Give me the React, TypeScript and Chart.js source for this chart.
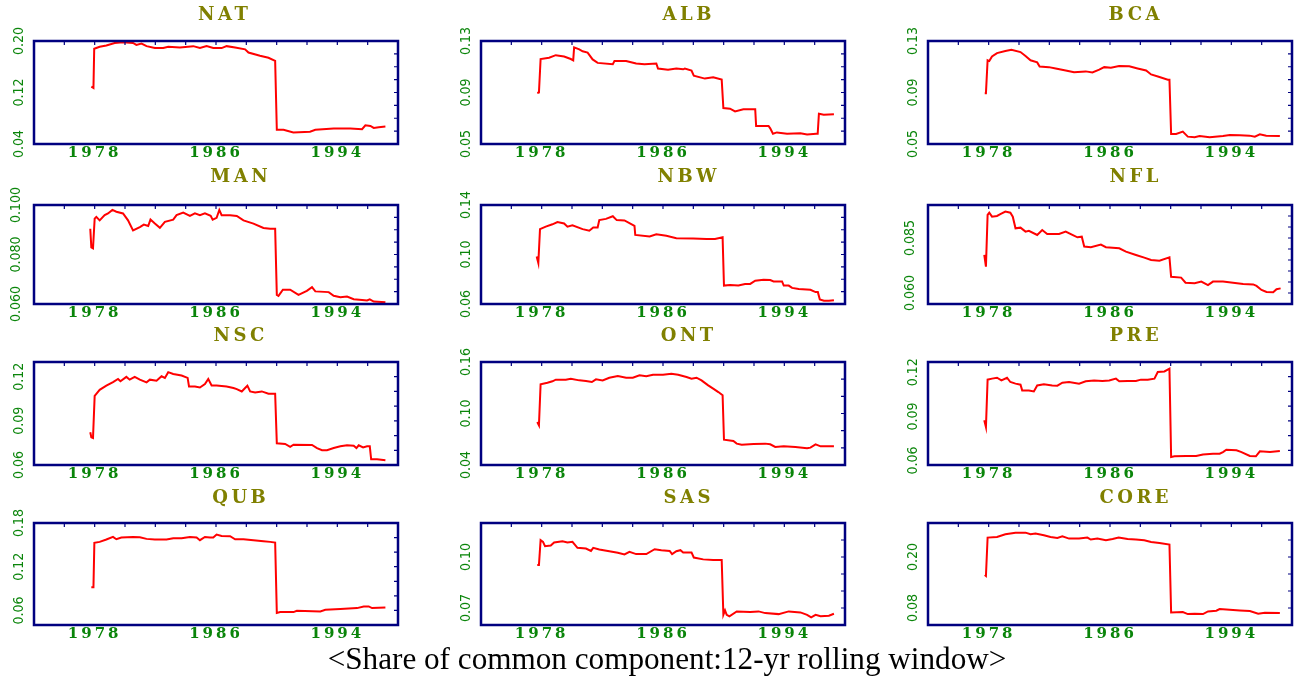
import React, { useEffect, useRef } from 'react';
import { Chart, registerables, LinearScale } from 'chart.js';

Chart.register(...registerables);

class SpacedLinearScale extends LinearScale {
  static id = 'spacedLinear';
  static defaults = { ...(LinearScale as any).defaults };
  drawLabels(chartArea: any) {
    const ctx = (this as any).ctx as CanvasRenderingContext2D;
    ctx.save();
    (ctx as any).letterSpacing = ((this as any).options.letterSpacing as string) || '0px';
    super.drawLabels(chartArea);
    ctx.restore();
  }
}
Chart.register(SpacedLinearScale as any);

// ---------------- data ----------------
const X_LABELS = [1978, 1986, 1994];
const X_MINOR = [1976, 1978, 1980, 1982, 1984, 1986, 1988, 1990, 1992, 1994, 1996];

const NAT: [number, number][] = [
  [1977.78, 0.129], [1977.92, 0.127], [1977.97, 0.188], [1978.33, 0.191], [1978.77, 0.193], [1979.32, 0.197],
  [1979.87, 0.198], [1980.53, 0.197], [1980.75, 0.194], [1981.09, 0.196], [1981.42, 0.192], [1981.97, 0.189],
  [1982.52, 0.189], [1982.85, 0.191], [1983.62, 0.190], [1984.5, 0.192], [1984.94, 0.189], [1985.38, 0.192],
  [1985.82, 0.189], [1986.37, 0.189], [1986.7, 0.192], [1987.26, 0.190], [1987.92, 0.187], [1988.14, 0.182],
  [1988.9, 0.177], [1989.46, 0.174], [1989.9, 0.169], [1990.01, 0.062], [1990.45, 0.062], [1991.1, 0.058],
  [1992.2, 0.059], [1992.55, 0.062], [1993.76, 0.064], [1994.86, 0.064], [1995.63, 0.063], [1995.85, 0.069],
  [1996.18, 0.068], [1996.4, 0.065], [1996.73, 0.066], [1997.17, 0.067],
];
const ALB: [number, number][] = [
  [1977.71, 0.0896], [1977.82, 0.090], [1977.93, 0.116], [1978.49, 0.117], [1978.93, 0.119], [1979.48, 0.118],
  [1979.92, 0.116], [1980.08, 0.115], [1980.14, 0.125], [1980.48, 0.1235], [1980.7, 0.122], [1981.03, 0.121],
  [1981.36, 0.1157], [1981.69, 0.113], [1982.69, 0.112], [1982.8, 0.1144], [1983.57, 0.1144], [1984.23, 0.1125],
  [1984.78, 0.112], [1985.56, 0.1125], [1985.67, 0.1086], [1986.33, 0.1076], [1986.88, 0.1086], [1987.33, 0.108],
  [1987.44, 0.1086], [1987.88, 0.107], [1988.03, 0.103], [1988.76, 0.1008], [1989.31, 0.1019], [1989.87, 0.100],
  [1989.98, 0.0779], [1990.42, 0.0774], [1990.75, 0.0753], [1991.3, 0.077], [1992.08, 0.077], [1992.14, 0.064],
  [1992.96, 0.064], [1993.07, 0.0622], [1993.25, 0.058], [1993.51, 0.059], [1994.18, 0.058], [1995.06, 0.0583],
  [1995.5, 0.0573], [1996.1, 0.058], [1996.2, 0.058], [1996.28, 0.0735], [1996.6, 0.0727], [1997.27, 0.0732],
];
const BCA: [number, number][] = [
  [1977.74, 0.0895], [1977.82, 0.0895], [1977.93, 0.115], [1978.04, 0.1144], [1978.22, 0.118], [1978.55, 0.1206],
  [1979.1, 0.1222], [1979.5, 0.1232], [1980.1, 0.1214], [1980.43, 0.1183], [1980.76, 0.115], [1981.2, 0.1134],
  [1981.36, 0.1102], [1981.97, 0.1097], [1982.42, 0.1087], [1983.08, 0.1071], [1983.63, 0.1058], [1984.4, 0.1064],
  [1984.84, 0.1056], [1985.29, 0.1077], [1985.62, 0.1097], [1986.06, 0.1092], [1986.6, 0.1105], [1987.27, 0.1103],
  [1987.82, 0.1087], [1988.38, 0.1071], [1988.71, 0.104], [1989.26, 0.102], [1989.81, 0.100], [1989.92, 0.100],
  [1990.03, 0.0578], [1990.36, 0.0578], [1990.8, 0.0596], [1991.13, 0.0557], [1991.58, 0.0552], [1991.91, 0.0562],
  [1992.57, 0.0552], [1993.45, 0.0562], [1993.9, 0.057], [1994.56, 0.0568], [1995.2, 0.0565], [1995.55, 0.0557],
  [1995.88, 0.0575], [1996.3, 0.0565], [1997.2, 0.0562],
];
const MAN: [number, number][] = [
  [1977.71, 0.0904], [1977.78, 0.0829], [1977.89, 0.0825], [1978.0, 0.0945], [1978.11, 0.0952], [1978.33, 0.0938],
  [1978.66, 0.0959], [1978.88, 0.0966], [1979.17, 0.098], [1979.43, 0.0973], [1979.87, 0.0966], [1980.2, 0.0938],
  [1980.53, 0.0897], [1980.98, 0.0911], [1981.24, 0.0921], [1981.53, 0.0915], [1981.68, 0.0941], [1981.97, 0.0925],
  [1982.3, 0.0908], [1982.63, 0.0932], [1983.18, 0.0941], [1983.4, 0.0959], [1983.84, 0.0969], [1984.28, 0.0956],
  [1984.61, 0.0966], [1984.94, 0.0959], [1985.27, 0.0966], [1985.65, 0.0956], [1985.78, 0.0941], [1986.04, 0.0948],
  [1986.22, 0.098], [1986.37, 0.0959], [1986.93, 0.0959], [1987.37, 0.0956], [1987.81, 0.0938], [1988.47, 0.0925],
  [1989.13, 0.0907], [1989.57, 0.0904], [1989.9, 0.0904], [1990.01, 0.0637], [1990.12, 0.0633], [1990.41, 0.0658],
  [1990.89, 0.0658], [1991.44, 0.0637], [1991.99, 0.0653], [1992.33, 0.0668], [1992.55, 0.0651], [1993.43, 0.0648],
  [1993.76, 0.0633], [1994.2, 0.0627], [1994.64, 0.063], [1995.08, 0.0619], [1995.63, 0.0616], [1995.96, 0.0614],
  [1996.14, 0.0619], [1996.4, 0.061], [1997.17, 0.0607],
];
const NBW: [number, number][] = [
  [1977.67, 0.0983], [1977.78, 0.0931], [1977.89, 0.1205], [1978.27, 0.1225], [1978.71, 0.1244], [1979.04, 0.1262],
  [1979.48, 0.1251], [1979.7, 0.1225], [1980.03, 0.1236], [1980.7, 0.1205], [1981.14, 0.1192], [1981.4, 0.1218],
  [1981.69, 0.1218], [1981.8, 0.1278], [1982.24, 0.1288], [1982.69, 0.1309], [1982.95, 0.1278], [1983.46, 0.1275],
  [1984.12, 0.1231], [1984.17, 0.1158], [1985.12, 0.1145], [1985.56, 0.1163], [1986.22, 0.1152], [1986.88, 0.1132],
  [1987.99, 0.1129], [1988.87, 0.1126], [1989.43, 0.1126], [1989.93, 0.114], [1990.02, 0.0749], [1990.42, 0.0754],
  [1990.97, 0.0749], [1991.41, 0.0762], [1991.75, 0.0762], [1992.08, 0.0788], [1992.63, 0.0795], [1993.07, 0.0793],
  [1993.29, 0.0782], [1993.85, 0.0782], [1993.96, 0.0749], [1994.29, 0.0749], [1994.51, 0.073], [1994.95, 0.0722],
  [1995.72, 0.0715], [1996.06, 0.0696], [1996.21, 0.0696], [1996.34, 0.0636], [1996.61, 0.0626], [1996.94, 0.0626],
  [1997.27, 0.0631],
];
const NFL: [number, number][] = [
  [1977.71, 0.0773], [1977.82, 0.072], [1977.93, 0.0955], [1978.04, 0.0965], [1978.22, 0.0947], [1978.55, 0.095],
  [1978.77, 0.0958], [1979.1, 0.097], [1979.43, 0.0965], [1979.59, 0.0947], [1979.77, 0.0894], [1980.1, 0.0897],
  [1980.43, 0.0879], [1980.65, 0.0883], [1981.2, 0.0864], [1981.53, 0.0886], [1981.86, 0.0868], [1982.64, 0.0868],
  [1983.08, 0.0879], [1983.52, 0.0864], [1983.85, 0.0853], [1984.14, 0.0856], [1984.3, 0.0811], [1984.74, 0.0808],
  [1985.4, 0.082], [1985.73, 0.0808], [1986.61, 0.0803], [1987.05, 0.0788], [1987.71, 0.0773], [1988.26, 0.0761],
  [1988.71, 0.075], [1989.26, 0.0747], [1989.92, 0.0762], [1990.03, 0.0674], [1990.69, 0.067], [1990.98, 0.0647],
  [1991.58, 0.0644], [1992.02, 0.0652], [1992.46, 0.0636], [1992.79, 0.0652], [1993.45, 0.0652], [1994.11, 0.0647],
  [1994.78, 0.0641], [1995.44, 0.0639], [1995.66, 0.0632], [1995.99, 0.0614], [1996.32, 0.0605], [1996.76, 0.0603],
  [1996.98, 0.0617], [1997.25, 0.0621],
];
const NSC: [number, number][] = [
  [1977.71, 0.0823], [1977.78, 0.0789], [1977.89, 0.0784], [1978.0, 0.107], [1978.11, 0.1084], [1978.33, 0.1111],
  [1978.77, 0.1139], [1979.21, 0.1164], [1979.54, 0.1185], [1979.7, 0.1169], [1980.09, 0.1199], [1980.31, 0.118],
  [1980.64, 0.1199], [1980.98, 0.118], [1981.42, 0.1162], [1981.64, 0.118], [1982.08, 0.1173], [1982.41, 0.1203],
  [1982.63, 0.1192], [1982.85, 0.1231], [1983.18, 0.1219], [1983.73, 0.1208], [1984.13, 0.1192], [1984.22, 0.1134],
  [1984.61, 0.1134], [1984.94, 0.1127], [1985.27, 0.115], [1985.49, 0.1185], [1985.71, 0.1141], [1986.04, 0.1141],
  [1986.7, 0.1134], [1987.15, 0.1123], [1987.37, 0.1116], [1987.7, 0.11], [1987.92, 0.1123], [1988.07, 0.1139],
  [1988.25, 0.11], [1988.58, 0.1093], [1989.02, 0.11], [1989.46, 0.1084], [1989.9, 0.1084], [1990.01, 0.0747],
  [1990.56, 0.0743], [1990.89, 0.0724], [1991.11, 0.0738], [1992.33, 0.0736], [1992.66, 0.0715], [1992.99, 0.0701],
  [1993.32, 0.0701], [1993.76, 0.0715], [1994.2, 0.0727], [1994.64, 0.0734], [1995.08, 0.0731], [1995.26, 0.0715],
  [1995.41, 0.0734], [1995.7, 0.072], [1995.96, 0.0727], [1996.14, 0.0727], [1996.23, 0.0639], [1996.62, 0.0639],
  [1997.17, 0.0632],
];
const ONT: [number, number][] = [
  [1977.71, 0.0901], [1977.82, 0.0862], [1977.93, 0.134], [1978.38, 0.1359], [1978.71, 0.1375], [1978.93, 0.1394],
  [1979.59, 0.1394], [1979.92, 0.1406], [1980.48, 0.1386], [1980.92, 0.1379], [1981.31, 0.1367], [1981.58, 0.1398],
  [1982.02, 0.1386], [1982.46, 0.1417], [1983.02, 0.1437], [1983.57, 0.1417], [1984.01, 0.1417], [1984.45, 0.1445],
  [1984.9, 0.1433], [1985.34, 0.1452], [1986.0, 0.1452], [1986.55, 0.1464], [1987.0, 0.1452], [1987.55, 0.1425],
  [1987.88, 0.1406], [1988.21, 0.1417], [1988.54, 0.1386], [1988.98, 0.1328], [1989.31, 0.1289], [1989.65, 0.125],
  [1989.93, 0.1212], [1990.02, 0.0695], [1990.64, 0.068], [1990.86, 0.0649], [1991.19, 0.0637], [1991.97, 0.0645],
  [1992.74, 0.0649], [1993.07, 0.0641], [1993.4, 0.061], [1993.96, 0.0617], [1994.73, 0.061], [1995.5, 0.0594],
  [1995.72, 0.0602], [1996.06, 0.0641], [1996.39, 0.0617], [1997.27, 0.0617],
];
const PRE: [number, number][] = [
  [1977.71, 0.0874], [1977.82, 0.0828], [1977.93, 0.115], [1978.22, 0.1157], [1978.55, 0.1163], [1978.84, 0.1145],
  [1979.21, 0.1163], [1979.43, 0.1134], [1979.77, 0.1123], [1980.1, 0.1116], [1980.21, 0.1077], [1980.65, 0.1077],
  [1980.98, 0.107], [1981.2, 0.1111], [1981.64, 0.1118], [1982.19, 0.1111], [1982.53, 0.1109], [1982.86, 0.1129],
  [1983.3, 0.1134], [1983.96, 0.1123], [1984.4, 0.1139], [1984.95, 0.1145], [1985.5, 0.1141], [1985.95, 0.1145],
  [1986.39, 0.1157], [1986.61, 0.1139], [1987.16, 0.1141], [1987.71, 0.1141], [1988.04, 0.115], [1988.49, 0.115],
  [1988.93, 0.1157], [1989.15, 0.1202], [1989.59, 0.1206], [1989.92, 0.1225], [1990.03, 0.0624], [1990.25, 0.0629],
  [1991.02, 0.0631], [1991.68, 0.0631], [1992.13, 0.0642], [1992.79, 0.0647], [1993.23, 0.0647], [1993.45, 0.0658],
  [1993.67, 0.0674], [1994.34, 0.067], [1994.67, 0.0658], [1995.22, 0.0631], [1995.62, 0.0629], [1995.88, 0.0663],
  [1996.55, 0.0658], [1997.2, 0.0665],
];
const QUB: [number, number][] = [
  [1977.78, 0.0918], [1977.92, 0.0918], [1977.98, 0.1527], [1978.33, 0.1541], [1978.77, 0.1573], [1979.21, 0.1609],
  [1979.43, 0.1577], [1979.76, 0.16], [1980.53, 0.1609], [1980.98, 0.1605], [1981.42, 0.1582], [1981.97, 0.1573],
  [1982.74, 0.1573], [1983.18, 0.1591], [1983.73, 0.1591], [1984.28, 0.1609], [1984.72, 0.16], [1984.94, 0.1564],
  [1985.27, 0.1609], [1985.6, 0.16], [1985.82, 0.16], [1986.04, 0.1641], [1986.37, 0.1623], [1986.93, 0.1618],
  [1987.26, 0.1577], [1987.81, 0.1577], [1988.47, 0.1564], [1989.13, 0.155], [1989.57, 0.1541], [1989.9, 0.1532],
  [1990.01, 0.0564], [1990.23, 0.0577], [1991.11, 0.0577], [1991.33, 0.0595], [1992.88, 0.0586], [1993.21, 0.0609],
  [1994.2, 0.0618], [1995.3, 0.0632], [1995.74, 0.0655], [1996.07, 0.0655], [1996.29, 0.0632], [1997.17, 0.0641],
];
const SAS: [number, number][] = [
  [1977.71, 0.0953], [1977.82, 0.0953], [1977.93, 0.1099], [1978.09, 0.1089], [1978.22, 0.1064], [1978.6, 0.1068],
  [1978.82, 0.1085], [1979.37, 0.1093], [1979.7, 0.1085], [1980.03, 0.1089], [1980.36, 0.1054], [1980.92, 0.105],
  [1981.25, 0.1036], [1981.4, 0.1054], [1981.8, 0.1044], [1982.46, 0.1034], [1983.02, 0.1025], [1983.46, 0.1015],
  [1983.79, 0.103], [1984.23, 0.1017], [1984.9, 0.1017], [1985.45, 0.1046], [1985.89, 0.104], [1986.44, 0.1036],
  [1986.6, 0.1017], [1986.88, 0.1034], [1987.15, 0.104], [1987.33, 0.1027], [1987.88, 0.1027], [1988.03, 0.0997],
  [1988.65, 0.0986], [1989.31, 0.0982], [1989.87, 0.0982], [1989.98, 0.066], [1990.09, 0.0686], [1990.2, 0.066],
  [1990.38, 0.0651], [1990.86, 0.068], [1991.75, 0.0676], [1992.3, 0.068], [1992.74, 0.067], [1993.62, 0.0664],
  [1994.29, 0.068], [1995.06, 0.0674], [1995.5, 0.066], [1995.77, 0.0645], [1996.06, 0.066], [1996.39, 0.0651],
  [1996.94, 0.0655], [1997.27, 0.0666],
];
const CORE: [number, number][] = [
  [1977.74, 0.1576], [1977.82, 0.1553], [1977.93, 0.2457], [1978.55, 0.2472], [1979.1, 0.2534], [1979.77, 0.2573],
  [1980.43, 0.2573], [1980.76, 0.2534], [1981.09, 0.255], [1981.64, 0.2511], [1982.08, 0.2472], [1982.53, 0.2449],
  [1982.86, 0.2488], [1983.3, 0.2433], [1983.96, 0.2433], [1984.51, 0.2457], [1984.73, 0.241], [1985.17, 0.2433],
  [1985.73, 0.2394], [1986.17, 0.2425], [1986.57, 0.2457], [1987.16, 0.2425], [1987.71, 0.241], [1988.26, 0.2394],
  [1988.71, 0.2355], [1989.26, 0.2332], [1989.92, 0.2293], [1990.03, 0.0696], [1990.8, 0.0704], [1991.13, 0.0657],
  [1991.58, 0.0665], [1992.13, 0.0657], [1992.46, 0.0719], [1993.01, 0.0735], [1993.23, 0.0774], [1993.89, 0.0758],
  [1994.56, 0.0743], [1995.22, 0.0727], [1995.77, 0.0665], [1996.21, 0.0688], [1997.2, 0.068],
];

type PanelDef = {
  name: string; data: [number, number][]; min: number; max: number;
  labels: number[]; digits: number; step: number;
};

const PANELS: PanelDef[] = [
  { name: 'NAT', data: NAT, min: 0.04, max: 0.20, labels: [0.04, 0.12, 0.20], digits: 2, step: 0.02 },
  { name: 'ALB', data: ALB, min: 0.05, max: 0.13, labels: [0.05, 0.09, 0.13], digits: 2, step: 0.01 },
  { name: 'BCA', data: BCA, min: 0.05, max: 0.13, labels: [0.05, 0.09, 0.13], digits: 2, step: 0.01 },
  { name: 'MAN', data: MAN, min: 0.06, max: 0.10, labels: [0.06, 0.08, 0.10], digits: 3, step: 0.005 },
  { name: 'NBW', data: NBW, min: 0.06, max: 0.14, labels: [0.06, 0.10, 0.14], digits: 2, step: 0.01 },
  { name: 'NFL', data: NFL, min: 0.055, max: 0.10, labels: [0.06, 0.085], digits: 3, step: 0.005 },
  { name: 'NSC', data: NSC, min: 0.06, max: 0.13, labels: [0.06, 0.09, 0.12], digits: 2, step: 0.01 },
  { name: 'ONT', data: ONT, min: 0.04, max: 0.16, labels: [0.04, 0.10, 0.16], digits: 2, step: 0.02 },
  { name: 'PRE', data: PRE, min: 0.057, max: 0.127, labels: [0.06, 0.09, 0.12], digits: 2, step: 0.01 },
  { name: 'QUB', data: QUB, min: 0.04, max: 0.18, labels: [0.06, 0.12, 0.18], digits: 2, step: 0.02 },
  { name: 'SAS', data: SAS, min: 0.06, max: 0.12, labels: [0.07, 0.10], digits: 2, step: 0.01 },
  { name: 'CORE', data: CORE, min: 0.04, max: 0.28, labels: [0.08, 0.20], digits: 2, step: 0.04 },
];

const CAPTION = '<Share of common component:12-yr rolling window>';

// ---------------- layout / style ----------------
const COL_LEFT = [34, 481, 928];
const PLOT_W = 364;
const ROW_TOP = [41, 205, 362, 523];
const ROW_BOTTOM = [144, 304, 465, 625];
const TITLE_X = [239, 687, 1134];
const TITLE_Y = [14, 176, 335, 497];
const Y_AXIS_W = 40;
const PAD_T = 21;
const PAD_R = 4;
const X_AXIS_H = 24;
const GREEN = '#0a850a';
const NAVY = '#000080';
const OLIVE = '#808000';
const Y_FONT = { family: "'Liberation Sans Narrow', 'DejaVu Sans Condensed', 'Liberation Sans', sans-serif", size: 14 };
const X_FONT = { family: "'DejaVu Serif', serif", size: 15, weight: 'bold' as const, lineHeight: 1.2 };

const framePlugin = {
  id: 'frame',
  afterDraw(chart: any, _args: any, opts: any) {
    const { ctx, chartArea: a, scales } = chart;
    ctx.save();
    ctx.strokeStyle = NAVY;
    ctx.lineWidth = 1.2;
    ctx.beginPath();
    for (const yr of X_MINOR) {
      const px = scales.x.getPixelForValue(yr);
      ctx.moveTo(px, a.top);
      ctx.lineTo(px, a.top + 4);
    }
    for (const v of opts.yMinor as number[]) {
      const py = scales.y.getPixelForValue(v);
      ctx.moveTo(a.right, py);
      ctx.lineTo(a.right - 4, py);
    }
    ctx.stroke();
    ctx.lineWidth = 2.5;
    ctx.strokeRect(a.left, a.top, a.right - a.left, a.bottom - a.top);
    ctx.restore();
  },
};

function measureWidest(labels: string[]): number {
  const c = document.createElement('canvas').getContext('2d')!;
  c.font = `normal ${Y_FONT.size}px ${Y_FONT.family}`;
  return Math.max(...labels.map((l) => c.measureText(l).width));
}

function Panel({ def, idx }: { def: PanelDef; idx: number }) {
  const ref = useRef<HTMLCanvasElement>(null);
  const col = idx % 3;
  const row = Math.floor(idx / 3);
  const plotH = ROW_BOTTOM[row] - ROW_TOP[row];
  const w = Y_AXIS_W + PLOT_W + PAD_R;
  const h = PAD_T + plotH + X_AXIS_H;
  const left = COL_LEFT[col] - Y_AXIS_W;
  const top = ROW_TOP[row] - PAD_T;

  useEffect(() => {
    const labelText = def.labels.map((v) => v.toFixed(def.digits));
    const widest = measureWidest(labelText);
    const yPad = Math.max(0, 14.5 - widest / 2);
    const yMinor: number[] = [];
    const n = Math.round((def.max - def.min) / def.step);
    for (let i = 1; i < n + 1; i++) {
      const v = def.min + i * def.step;
      if (v < def.max - 1e-9) yMinor.push(v);
    }
    const chart = new Chart(ref.current!, {
      type: 'line',
      data: {
        datasets: [
          {
            data: def.data.map(([x, y]) => ({ x, y })),
            borderColor: '#ff0000',
            borderWidth: 2,
            pointRadius: 0,
            tension: 0,
            fill: false,
          },
        ],
      },
      options: {
        animation: false,
        responsive: false,
        events: [],
        layout: { padding: { top: PAD_T, right: PAD_R, left: 0, bottom: 0 } },
        plugins: {
          legend: { display: false },
          tooltip: { enabled: false },
          title: { display: false },
          frame: { yMinor },
        } as any,
        scales: {
          x: {
            type: 'spacedLinear' as any,
            letterSpacing: '3px',
            min: 1974,
            max: 1998,
            afterBuildTicks: (s: any) => {
              s.ticks = X_LABELS.map((v) => ({ value: v }));
            },
            afterFit: (s: any) => {
              s.height = X_AXIS_H;
            },
            grid: { display: false, drawTicks: false },
            border: { display: false },
            ticks: {
              autoSkip: false,
              maxRotation: 0,
              minRotation: 0,
              padding: 0,
              color: GREEN,
              font: X_FONT,
              callback: (v: any) => String(v),
            },
          } as any,
          y: {
            type: 'linear',
            min: def.min,
            max: def.max,
            afterBuildTicks: (s: any) => {
              s.ticks = def.labels.map((v) => ({ value: v }));
            },
            afterFit: (s: any) => {
              s.width = Y_AXIS_W;
            },
            grid: { display: false, drawTicks: false },
            border: { display: false },
            ticks: {
              autoSkip: false,
              minRotation: 90,
              maxRotation: 90,
              crossAlign: 'center',
              padding: yPad,
              color: GREEN,
              font: Y_FONT,
              callback: (v: any) => Number(v).toFixed(def.digits),
            },
          } as any,
        },
      },
      plugins: [framePlugin],
    });
    return () => chart.destroy();
  }, [def]);

  return (
    <canvas
      ref={ref}
      width={w}
      height={h}
      style={{ position: 'absolute', left, top, width: w, height: h }}
    />
  );
}

export default function App() {
  return (
    <div style={{ position: 'absolute', left: 0, top: 0, width: 1307, height: 676, background: '#ffffff', overflow: 'hidden' }}>
      {PANELS.map((p, i) => (
        <Panel key={p.name} def={p} idx={i} />
      ))}
      {PANELS.map((p, i) => {
        const col = i % 3;
        const row = Math.floor(i / 3);
        const cx = TITLE_X[col] + (p.name === 'NAT' ? -16 : 0);
        return (
          <div
            key={'t' + p.name}
            style={{
              position: 'absolute',
              left: cx,
              top: TITLE_Y[row],
              transform: 'translate(-50%, -50%)',
              fontFamily: "'DejaVu Serif', serif",
              fontWeight: 'bold',
              fontSize: 18,
              letterSpacing: 3.5,
              paddingLeft: 3.5,
              color: OLIVE,
              lineHeight: 1,
              whiteSpace: 'nowrap',
            }}
          >
            {p.name}
          </div>
        );
      })}
      <div
        style={{
          position: 'absolute',
          left: 667,
          top: 659,
          transform: 'translate(-50%, -50%)',
          fontFamily: "'Liberation Serif', serif",
          fontSize: 31.2,
          color: '#000000',
          lineHeight: 1,
          whiteSpace: 'nowrap',
        }}
      >
        {CAPTION}
      </div>
    </div>
  );
}
